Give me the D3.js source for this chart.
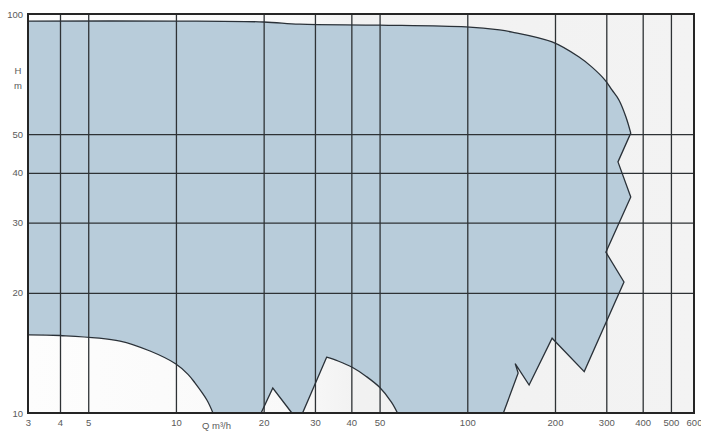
<!DOCTYPE html>
<html>
<head>
<meta charset="utf-8">
<script src="https://cdn.jsdelivr.net/npm/d3@7"></script>
<style>
  html, body { margin: 0; padding: 0; background: #ffffff; }
  svg { display: block; }
  text { font-family: "Liberation Sans", Arial, sans-serif; }
</style>
</head>
<body>
<svg id="chart" width="701" height="431"></svg>
<script>
// ---- data ----
const xTickValues = [3, 4, 5, 10, 20, 30, 40, 50, 100, 200, 300, 400, 500, 600];
const xTickLabels = ["3", "4", "5", "10", "20", "30", "40", "50", "100", "200", "300", "400", "500", "600"];
const xGridValues = [4, 5, 10, 20, 30, 40, 50, 100, 200, 300, 400, 500];
const yTickValues = [10, 20, 30, 40, 50, 100];
const yTickLabels = ["10", "20", "30", "40", "50", "100"];
const yGridValues = [20, 30, 40, 50];
const xAxisTitle = "Q m³/h";
const yAxisTitle = ["H", "m"];

// operating envelope (Q in m³/h, H in m), traced clockwise from top-left
// top edge and right-hand shoulder (smooth)
const topQ = [3, 10, 20, 26.6, 50, 99, 129, 142.6, 195.5, 241.9, 267.9, 297, 313.7, 331.5, 350.4, 364];
const topH = [96, 96, 95.5, 94.3, 93.8, 92.8, 91.2, 90.1, 85.1, 78.0, 73.6, 68.3, 64.5, 60.9, 55.2, 50.3];
// right-hand zig-zag down to the bottom (straight)
const zigQ = [364, 329, 364, 299, 345, 252, 195.5, 163, 146, 149.5, 133, 57.6];
const zigH = [50.3, 42.6, 34.8, 25.3, 21.3, 12.7, 15.4, 11.75, 13.3, 12.6, 10, 10];
// large bottom cut-out (smooth arc)
const humpQ = [57.6, 54.9, 50, 45, 40.4, 36, 32.9];
const humpH = [10, 10.65, 11.6, 12.35, 13, 13.5, 13.8];
// its steep left flank and the small triangular cut-out (straight)
const notchQ = [32.9, 27.2, 25, 21.5, 19.6, 13.4];
const notchH = [13.8, 10, 10, 11.55, 10, 10];
// lower-left cut-out (smooth arc)
const arcQ = [13.4, 12.77, 11.62, 11, 10, 8.15, 6.43, 4, 3];
const arcH = [10, 10.78, 11.9, 12.5, 13.27, 14.3, 15.15, 15.64, 15.7];

// ---- layout ----
const svg = d3.select("#chart");
const pLeft = 28, pRight = 694, pTop = 14, pBottom = 413;

const x = d3.scaleLog().domain([3, 4, 600]).range([pLeft, 60, pRight]);
const y = d3.scaleLog().domain([10, 100]).range([pBottom, pTop]);

// background gradient
const defs = svg.append("defs");
const grad = defs.append("linearGradient").attr("id", "bg").attr("x1", "0").attr("x2", "1").attr("y1", "0").attr("y2", "0");
grad.append("stop").attr("offset", "0").attr("stop-color", "#fdfdfd");
grad.append("stop").attr("offset", "0.4").attr("stop-color", "#f9f9f9");
grad.append("stop").attr("offset", "0.5").attr("stop-color", "#f1f1f1");
grad.append("stop").attr("offset", "1").attr("stop-color", "#f3f3f3");

svg.append("rect").attr("x", pLeft).attr("y", pTop).attr("width", pRight - pLeft).attr("height", pBottom - pTop)
  .attr("fill", "url(#bg)");

// envelope path built from segments
const zipPts = (qs, hs) => qs.map((q, i) => [q, hs[i]]);
const smooth = d3.line().x(d => x(d[0])).y(d => y(d[1])).curve(d3.curveCatmullRom.alpha(0.5));
const straight = d3.line().x(d => x(d[0])).y(d => y(d[1])).curve(d3.curveLinear);
const segs = [
  smooth(zipPts(topQ, topH)),
  straight(zipPts(zigQ, zigH)),
  smooth(zipPts(humpQ, humpH)),
  straight(zipPts(notchQ, notchH)),
  smooth(zipPts(arcQ, arcH))
];
const envelopeD = segs.map((s, i) => i === 0 ? s : "L" + s.slice(1)).join("") + "Z";

svg.append("path").attr("d", envelopeD).attr("fill", "#b8ccda").attr("stroke", "none");

// grid lines
svg.append("g").attr("transform", `translate(0,${pBottom})`)
  .call(d3.axisBottom(x).tickValues(xGridValues).tickSize(-(pBottom - pTop)).tickFormat(""))
  .call(g => g.select(".domain").remove())
  .call(g => g.selectAll("line").attr("stroke", "#2e3235").attr("stroke-width", 1.3));
svg.append("g").attr("transform", `translate(${pLeft},0)`)
  .call(d3.axisLeft(y).tickValues(yGridValues).tickSize(-(pRight - pLeft)).tickFormat(""))
  .call(g => g.select(".domain").remove())
  .call(g => g.selectAll("line").attr("stroke", "#2e3235").attr("stroke-width", 1.3));

// envelope outline
svg.append("path").attr("d", envelopeD).attr("fill", "none")
  .attr("stroke", "#2a3138").attr("stroke-width", 1.3).attr("stroke-linejoin", "miter");

// frame
svg.append("rect").attr("x", pLeft).attr("y", pTop).attr("width", pRight - pLeft).attr("height", pBottom - pTop)
  .attr("fill", "none").attr("stroke", "#252525").attr("stroke-width", 2);

// axis labels
svg.append("g").attr("transform", `translate(0,${pBottom})`)
  .call(d3.axisBottom(x).tickValues(xTickValues).tickSize(0).tickPadding(6)
    .tickFormat((d, i) => xTickLabels[i]))
  .call(g => g.select(".domain").remove())
  .call(g => g.selectAll("text").attr("fill", "#5a5a5a").attr("font-size", "9.5px")
    .attr("font-family", "Liberation Sans, Arial, sans-serif"));

svg.append("g").attr("transform", `translate(${pLeft},0)`)
  .call(d3.axisLeft(y).tickValues(yTickValues).tickSize(0).tickPadding(5)
    .tickFormat((d, i) => yTickLabels[i]))
  .call(g => g.select(".domain").remove())
  .call(g => g.selectAll("text").attr("fill", "#5a5a5a").attr("font-size", "9.5px")
    .attr("font-family", "Liberation Sans, Arial, sans-serif"));

svg.append("text").attr("x", 202).attr("y", 428.5).attr("fill", "#5a5a5a").attr("font-size", "9.5px")
  .text(xAxisTitle);
svg.selectAll(".ytitle").data(yAxisTitle).enter().append("text")
  .attr("x", 18).attr("y", (d, i) => 74 + i * 15).attr("text-anchor", "middle")
  .attr("fill", "#5a5a5a").attr("font-size", "9.5px").text(d => d);
</script>
</body>
</html>
